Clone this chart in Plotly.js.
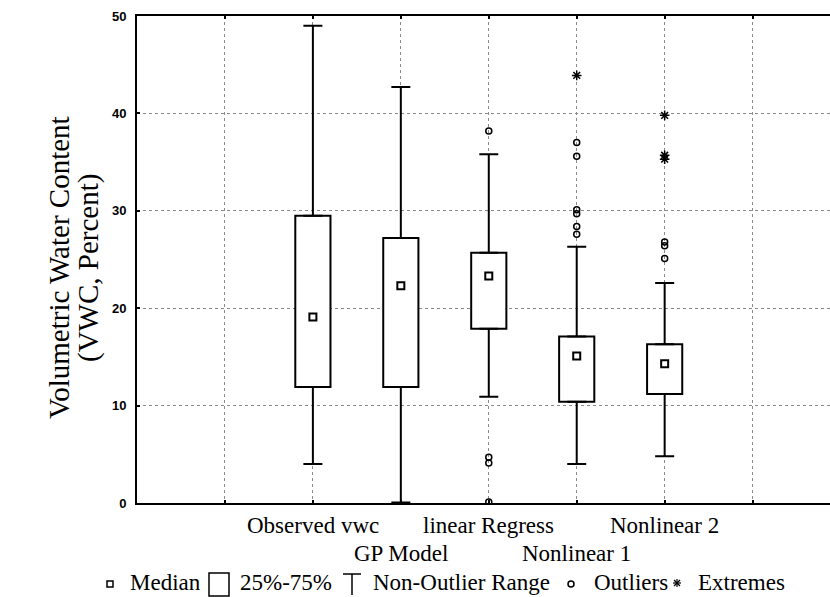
<!DOCTYPE html>
<html><head><meta charset="utf-8">
<script src="https://cdn.plot.ly/plotly-3.0.1.min.js"></script>
<style>body{margin:0;background:#fff}#chart{width:830px;height:597px}</style>
</head><body><div id="chart"></div>
<script>
// ---- data ----
const categories = ['Observed vwc', 'GP Model', 'linear Regress', 'Nonlinear 1', 'Nonlinear 2'];
const catPos = [1, 2, 3, 4, 5];
const medians = [19.1, 22.3, 23.3, 15.1, 14.3];
const q1 = [11.9, 11.9, 17.9, 10.4, 11.2];
const q3 = [29.5, 27.2, 25.7, 17.1, 16.3];
const whiskerLow = [4.0, 0.05, 10.9, 4.0, 4.8];
const whiskerHigh = [49.0, 42.7, 35.8, 26.3, 22.6];
const outlierCat = [3, 3, 3, 3, 4, 4, 4, 4, 4, 4, 5, 5, 5];
const outlierVals = [38.2, 4.7, 4.1, 0.1, 37.0, 35.6, 30.1, 29.7, 28.4, 27.6, 26.8, 26.4, 25.1];
const extremeCat = [4, 5, 5, 5];
const extremeVals = [43.9, 39.8, 35.7, 35.3];
const yTicks = [0, 10, 20, 30, 40, 50];
const gridX = [0, 1, 2, 3, 4, 5, 6];
const yTitleLines = ['Volumetric Water Content', '(VWC, Percent)'];
const legendLabels = ['Median', '25%-75%', 'Non-Outlier Range', 'Outliers', 'Extremes'];

// ---- layout helpers (pixel -> paper fraction; plot area 137..830 x 16..503) ----
const PL = 137, PW = 693, PB = 503, PH = 487;
const px = p => (p - PL) / PW;
const py = p => (PB - p) / PH;

const serif = 'Liberation Serif, Times New Roman, serif';
const zeros = catPos.map(() => 0);

const boxes = {
  type: 'bar', x: catPos, base: q1, y: q3.map((v, i) => v - q1[i]), width: 0.4,
  marker: {color: '#ffffff', line: {color: '#000', width: 2}}, showlegend: false, hoverinfo: 'skip'
};
const whiskers = {
  type: 'scatter', mode: 'markers', x: catPos.concat(catPos), y: q3.concat(q1),
  marker: {size: 1, color: 'rgba(0,0,0,0)'},
  error_y: {type: 'data', symmetric: false,
    array: whiskerHigh.map((v, i) => v - q3[i]).concat(zeros),
    arrayminus: zeros.concat(q1.map((v, i) => v - whiskerLow[i])),
    color: '#000', thickness: 2, width: 9.5},
  showlegend: false, hoverinfo: 'skip'
};
const med = {
  type: 'scatter', mode: 'markers', x: catPos, y: medians,
  marker: {symbol: 'square-open', size: 7, color: '#000', line: {width: 2, color: '#000'}}, showlegend: false
};
const outl = {
  type: 'scatter', mode: 'markers', x: outlierCat, y: outlierVals,
  marker: {symbol: 'circle-open', size: 6, color: '#000', line: {width: 1.5, color: '#000'}}, showlegend: false
};
const extr = {
  type: 'scatter', mode: 'markers', x: extremeCat, y: extremeVals,
  marker: {symbol: 'asterisk-open', size: 8, color: '#000', line: {width: 1.5, color: '#000'}}, showlegend: false
};

// category labels, staggered on two rows
const annotations = categories.map((c, i) => ({
  text: c, x: catPos[i], xref: 'x', y: 0, yref: 'paper', yanchor: 'top', xanchor: 'center',
  yshift: (i % 2 === 0) ? -8 : -36, showarrow: false,
  font: {family: serif, size: 23, color: '#000'}
}));
// legend texts
const legendTextX = [128, 238, 371, 592, 696];
legendLabels.forEach((t, i) => annotations.push({
  text: t, x: px(legendTextX[i]), xref: 'paper', y: 0, yref: 'paper', xanchor: 'left', yanchor: 'top',
  yshift: -65, showarrow: false, font: {family: serif, size: 23, color: '#000'}
}));
// y-axis title (two lines)
[px(59), px(88)].forEach((x, i) => annotations.push({
  text: yTitleLines[i], x: x, xref: 'paper', y: py(268), yref: 'paper', textangle: -90,
  xanchor: 'center', yanchor: 'middle', showarrow: false,
  font: {family: serif, size: 29, color: '#000'}
}));

// legend symbols
const ln = {color: '#000', width: 1.5};
const shapes = [
  {type: 'rect', xref: 'paper', yref: 'paper', x0: px(107), x1: px(113), y0: py(587), y1: py(581), line: ln},
  {type: 'rect', xref: 'paper', yref: 'paper', x0: px(209), x1: px(229), y0: py(596), y1: py(573), line: ln},
  {type: 'line', xref: 'paper', yref: 'paper', x0: px(343), x1: px(361), y0: py(574), y1: py(574), line: ln},
  {type: 'line', xref: 'paper', yref: 'paper', x0: px(352), x1: px(352), y0: py(574), y1: py(595), line: ln},
  {type: 'circle', xref: 'paper', yref: 'paper', x0: px(568), x1: px(574), y0: py(587), y1: py(581), line: ln}
];
const ec = [677, 583], er = 4;
[[er, 0], [0, er], [er * 0.75, er * 0.75], [er * 0.75, -er * 0.75]].forEach(d => shapes.push({
  type: 'line', xref: 'paper', yref: 'paper',
  x0: px(ec[0] - d[0]), x1: px(ec[0] + d[0]), y0: py(ec[1] - d[1]), y1: py(ec[1] + d[1]),
  line: {color: '#000', width: 1.2}
}));

const layout = {
  width: 830, height: 597,
  margin: {l: 137, r: 0, t: 16, b: 94},
  paper_bgcolor: '#fff', plot_bgcolor: '#fff',
  showlegend: false,
  xaxis: {range: [-1, 6.88], tickvals: gridX, showticklabels: false,
    showgrid: true, gridcolor: '#8a8a8a', griddash: 'dot', gridwidth: 1,
    showline: true, linecolor: '#000', linewidth: 2, mirror: 'ticks',
    ticks: 'inside', ticklen: 3, tickwidth: 2, tickcolor: '#000', zeroline: false},
  yaxis: {range: [0, 50], tickvals: yTicks,
    showgrid: true, gridcolor: '#8a8a8a', griddash: 'dot', gridwidth: 1,
    showline: true, linecolor: '#000', linewidth: 2,
    ticks: 'inside', ticklen: 3, tickwidth: 2, tickcolor: '#000', zeroline: false,
    tickfont: {family: 'Liberation Sans, Arial, sans-serif', size: 13, weight: 'bold', color: '#000'},
    ticklabelstandoff: 6},
  annotations: annotations,
  shapes: shapes
};

Plotly.newPlot('chart', [boxes, whiskers, med, outl, extr], layout, {displayModeBar: false, staticPlot: true});
</script>
</body></html>
